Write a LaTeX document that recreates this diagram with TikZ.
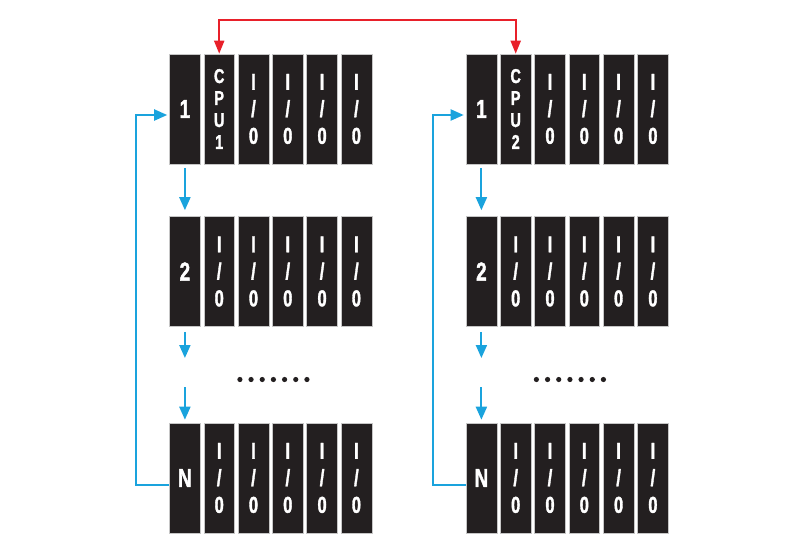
\documentclass[tikz,border=0pt]{standalone}
\usepackage{fontspec}
\newfontfamily\cond{Liberation Sans Bold}[FakeStretch=0.72,FakeBold=1.5]
\usetikzlibrary{arrows.meta,calc}
\definecolor{modfill}{HTML}{231F20}
\definecolor{cyanline}{HTML}{1AA3DD}
\definecolor{redline}{HTML}{E8202A}
\begin{document}
\begin{tikzpicture}[x=1pt,y=-1pt,
  mod/.style={draw=gray!45, line width=0.6pt, fill=modfill, text=white,
    minimum width=30.8pt, minimum height=110pt, inner sep=0pt, align=center},
  num/.style={mod, font=\cond\fontsize{26}{30}\selectfont},
  io/.style={mod, font=\cond\fontsize{23}{27}\selectfont},
  cpu/.style={mod, font=\cond\fontsize{20}{22}\selectfont},
  bluearrow/.style={draw=cyanline, line width=2pt, -{Triangle[length=13pt,width=11pt]}},
  redarrow/.style={draw=redline, line width=2pt, {Triangle[length=13pt,width=10pt]}-{Triangle[length=13pt,width=10pt]}},
  dot/.style={fill=modfill}
]
\useasboundingbox (0,0) rectangle (800,550);
\foreach \rk/\xa/\c in {L/184.9/1, R/481.4/2} {
  % rack 1
  \node[num] (\rk1-1) at (\xa,109) {1};
  \node[cpu] (\rk1-2) at ({\xa+34.3},109) {C\\P\\U\\\c};
  \foreach \i in {3,...,6}
    \node[io] (\rk1-\i) at ({\xa+(\i-1)*34.3},109) {I\\/\\0};
  % rack 2
  \node[num] (\rk2-1) at (\xa,271.5) {2};
  \foreach \i in {2,...,6}
    \node[io] (\rk2-\i) at ({\xa+(\i-1)*34.3},271.5) {I\\/\\0};
  % rack N
  \node[num] (\rk3-1) at (\xa,478) {N};
  \foreach \i in {2,...,6}
    \node[io] (\rk3-\i) at ({\xa+(\i-1)*34.3},478) {I\\/\\0};
  % dots
  \foreach \k in {0,...,6}
    \fill[dot] ({\xa+55+\k*11.17},379.5) circle (2.6pt);
  % arrows down
  \coordinate (\rk m1) at (\xa,358);
  \coordinate (\rk m2) at (\xa,387);
  \draw[bluearrow] ([yshift=-4pt]\rk1-1.south) -- ([yshift=6pt]\rk2-1.north);
  \draw[bluearrow] ([yshift=-5pt]\rk2-1.south) -- (\rk m1);
  \draw[bluearrow] (\rk m2) -- ([yshift=3pt]\rk3-1.north);
  % return loop
  \coordinate (\rk c) at ({\xa-48.5},485);
  \draw[bluearrow] ([yshift=-7pt]\rk3-1.west) -- (\rk c) |- ([yshift=-6pt,xshift=-2pt]\rk1-1.west);
}
\coordinate (top) at (400,20);
\draw[redarrow] (L1-2.north) -- (L1-2.north |- top) -- (R1-2.north |- top) -- (R1-2.north);
\end{tikzpicture}
\end{document}
